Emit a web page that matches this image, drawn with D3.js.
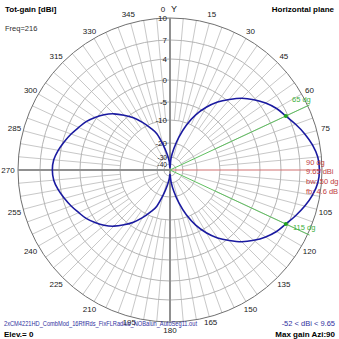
<!DOCTYPE html>
<html><head><meta charset="utf-8">
<script src="https://cdn.jsdelivr.net/npm/d3@7"></script>
<style>body{margin:0;background:#fff}svg{display:block}text{font-family:"Liberation Sans",Arial,sans-serif}</style>
</head><body><svg id="c" width="339" height="339"></svg>
<script>
const ringValues=[10,7,4,0,-5,-10,-20,-30,-40];
const ringLabels=["10","7","4","0","-5","-10","-20","-30","-40"];
const angleTicks=[0,15,30,45,60,75,90,105,120,135,150,165,180,195,210,225,240,255,270,285,300,315,330,345];
const azimuths=[0,5,10,15,20,25,30,35,40,45,50,55,60,65,70,75,80,85,90,95,100,105,110,115,120,125,130,135,140,145,150,155,160,165,170,175,180,185,190,195,200,205,210,215,220,225,230,235,240,245,250,255,260,265,270,275,280,285,290,295,300,305,310,315,320,325,330,335,340,345,350,355];
const gains=[-52,-32,-24,-17,-11,-7,-4,-1.6,0.4,2.2,3.7,4.9,5.9,6.65,7.5,8.3,9.0,9.5,9.65,9.5,9.0,8.3,7.5,6.65,5.9,4.9,3.7,2.2,0.4,-1.6,-4,-7,-11,-17,-24,-32,-45,-36,-28,-21,-15,-11.5,-8.6,-6.2,-4.2,-2.4,-0.9,0.3,1.3,2.05,2.9,3.7,4.4,4.9,5.05,4.9,4.4,3.7,2.9,2.05,1.3,0.3,-0.9,-2.4,-4.2,-6.2,-8.6,-11.5,-15,-21,-28,-36];
const maxAzi=90, maxGain=9.65, bwAngles=[65,115];
const infoLines=["90 dg","9.65 dBi","bw: 50 dg","fb: 4.6 dB"];

const svg=d3.select("#c");
const cx=170, cy=170, R=152;
const r=d3.scaleLinear().domain([-60,-40,-30,-20,-10,-5,0,4,7,10]).range([0,6,13,27,50,68,90,111,130,152]).clamp(true);
const rad=a=>a*Math.PI/180;
const px=(a,rr)=>cx+rr*Math.sin(rad(a)), py=(a,rr)=>cy-rr*Math.cos(rad(a));
const g=svg.append("g");

// spokes
for(let a=0;a<360;a+=5){
  if(a%90===0) continue;
  const r0 = a%15===0 ? r(-30) : r(-10);
  g.append("line").attr("x1",px(a,r0)).attr("y1",py(a,r0)).attr("x2",px(a,R)).attr("y2",py(a,R))
   .attr("stroke","#c8c8c8").attr("stroke-width",1);
}
// rings
ringValues.forEach((v,i)=>{
  g.append("circle").attr("cx",cx).attr("cy",cy).attr("r",r(v)).attr("fill","none")
   .attr("stroke", i===0?"#707070":"#b4b4b4").attr("stroke-width",1);
});
// axes
g.append("line").attr("x1",cx).attr("y1",cy-R).attr("x2",cx).attr("y2",cy+R).attr("stroke","#909090").attr("stroke-width",2);
g.append("line").attr("x1",cx-R).attr("y1",cy).attr("x2",cx).attr("y2",cy).attr("stroke","#909090").attr("stroke-width",2);
g.append("line").attr("x1",cx).attr("y1",cy).attr("x2",px(maxAzi,R)).attr("y2",cy).attr("stroke","#d07070").attr("stroke-width",1);
// ring labels
ringValues.forEach((v,i)=>{
  const small = v<=-30;
  g.append("text").attr("x",cx-3).attr("y",cy-r(v)+(small?2.5:3)).attr("text-anchor","end").attr("font-size",small?6.5:8).attr("fill","#202020").text(ringLabels[i]);
});
// angle labels
angleTicks.forEach(a=>{
  if(a===maxAzi) return;
  if(a===0){
    g.append("text").attr("x",163).attr("y",12).attr("text-anchor","middle").attr("font-size",8).attr("fill","#202020").text(a);
    return;
  }
  const rr=a===180?160:(a===270?162:(a===165||a===195?157:161));
  g.append("text").attr("x",px(a,rr)).attr("y",py(a,rr)+3).attr("text-anchor","middle").attr("font-size",8).attr("fill","#202020").text(a);
});
g.append("text").attr("x",174).attr("y",12).attr("text-anchor","middle").attr("font-size",9).attr("fill","#202020").text("Y");
// bw lines
bwAngles.forEach(a=>{
  g.append("line").attr("x1",cx).attr("y1",cy).attr("x2",px(a,R+2)).attr("y2",py(a,R+2)).attr("stroke","#60c060").attr("stroke-width",1);
});
// pattern
const line=d3.lineRadial().angle(d=>rad(d[0])).radius(d=>r(d[1])).curve(d3.curveCardinalClosed);
g.append("path").attr("transform",`translate(${cx},${cy})`).attr("d",line(azimuths.map((a,i)=>[a,gains[i]])))
 .attr("fill","none").attr("stroke","#1a1aa0").attr("stroke-width",1.6);
bwAngles.forEach(a=>{
  const v=gains[azimuths.indexOf(a)];
  g.append("circle").attr("cx",px(a,r(v))).attr("cy",py(a,r(v))).attr("r",2).attr("fill","#20a020");
});
g.append("text").attr("x",292).attr("y",102).attr("font-size",7.5).attr("fill","#40b040").text(bwAngles[0]+" dg");
g.append("text").attr("x",293).attr("y",230).attr("font-size",7.5).attr("fill","#40b040").text(bwAngles[1]+" dg");
infoLines.forEach((t,i)=>{
  g.append("text").attr("x",306).attr("y",[165,174,184,194][i]).attr("font-size",7.5).attr("fill","#c04040").text(t);
});
// titles
svg.append("text").attr("x",5).attr("y",12).attr("font-size",8).attr("font-weight","bold").text("Tot-gain [dBi]");
svg.append("text").attr("x",5).attr("y",31).attr("font-size",7.5).attr("fill","#303030").text("Freq=216");
svg.append("text").attr("x",334).attr("y",12).attr("text-anchor","end").attr("font-size",8).attr("font-weight","bold").text("Horizontal plane");
svg.append("text").attr("x",4).attr("y",326).attr("font-size",7.5).attr("fill","#3030a0")
  .style("font-family","'Liberation Sans Narrow','Liberation Sans',Arial,sans-serif")
  .attr("textLength",193).attr("lengthAdjust","spacingAndGlyphs").text("2xCM4221HD_CombMod_16RflRds_FixFLRadius_NOBalun_AutoSeg11.out");
svg.append("text").attr("x",335).attr("y",326).attr("text-anchor","end").attr("font-size",7.5).attr("fill","#3030a0").text("-52 < dBi < 9.65");
svg.append("text").attr("x",4).attr("y",337).attr("font-size",8).attr("font-weight","bold").text("Elev.= 0");
svg.append("text").attr("x",335).attr("y",337).attr("text-anchor","end").attr("font-size",8).attr("font-weight","bold").text("Max gain Azi:90");
</script></body></html>
